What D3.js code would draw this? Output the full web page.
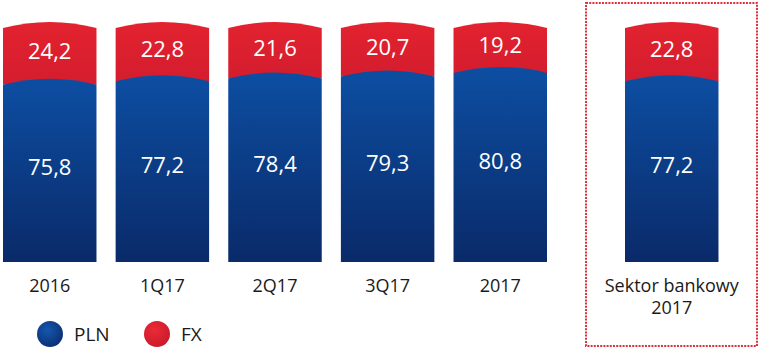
<!DOCTYPE html>
<html><head><meta charset="utf-8">
<script src="https://cdn.jsdelivr.net/npm/d3@7"></script>
<style>body{margin:0;background:#fff}svg{display:block}</style>
</head><body>
<svg id="c" width="761" height="350"></svg>
<script>
const categories = ["2016", "1Q17", "2Q17", "3Q17", "2017", "Sektor bankowy\n2017"];
const plnValues = [75.8, 77.2, 78.4, 79.3, 80.8, 77.2];
const fxValues = [24.2, 22.8, 21.6, 20.7, 19.2, 22.8];
const legendLabels = ["PLN", "FX"];

const svg = d3.select("#c");
const defs = svg.append("defs");
const gb = defs.append("linearGradient").attr("id","gBlue").attr("x1",0).attr("y1",0).attr("x2",0).attr("y2",1);
gb.append("stop").attr("offset","0%").attr("stop-color","#0d4ea2");
gb.append("stop").attr("offset","100%").attr("stop-color","#0a2a69");
const gr = defs.append("linearGradient").attr("id","gRed").attr("x1",0).attr("y1",0).attr("x2",0).attr("y2",1);
gr.append("stop").attr("offset","0%").attr("stop-color","#e3222f");
gr.append("stop").attr("offset","100%").attr("stop-color","#d41d2e");
const rb = defs.append("radialGradient").attr("id","rBlue").attr("cx","40%").attr("cy","35%").attr("r","70%");
rb.append("stop").attr("offset","0%").attr("stop-color","#1557ad");
rb.append("stop").attr("offset","100%").attr("stop-color","#0a2f72");
const rr = defs.append("radialGradient").attr("id","rRed").attr("cx","40%").attr("cy","35%").attr("r","70%");
rr.append("stop").attr("offset","0%").attr("stop-color","#ec2a36");
rr.append("stop").attr("offset","100%").attr("stop-color","#c81a2a");

const x = d3.scaleBand().domain(d3.range(5)).range([3, 547]).paddingInner(0.17).paddingOuter(0);
const bw = x.bandwidth();
const xPos = i => i < 5 ? x(i) : 625;
const y = d3.scaleLinear().domain([0, 100]).range([262, 28]);
const bulge = 6;
const fmt = v => v.toFixed(1).replace(".", ",");

function segPath(x0, yTop, yBot) {
  const x1 = x0 + bw;
  return `M${x0},${yBot}L${x0},${yTop}Q${x0 + bw/2},${yTop - 2*bulge} ${x1},${yTop}L${x1},${yBot}Z`;
}

const g = svg.append("g");
categories.forEach((c, i) => {
  const x0 = xPos(i);
  const pln = plnValues[i], fx = fxValues[i];
  g.append("path").attr("d", segPath(x0, y(pln + fx), y(pln))).attr("fill", "url(#gRed)");
  g.append("path").attr("d", segPath(x0, y(pln), y(0))).attr("fill", "url(#gBlue)");
  g.append("text").attr("x", x0 + bw/2).attr("y", (y(pln + fx) + y(pln))/2 + 2.5)
    .attr("text-anchor","middle")
    .attr("fill","#fff").attr("font-family","Open Sans").attr("font-size",22).text(fmt(fx));
  g.append("text").attr("x", x0 + bw/2).attr("y", (y(pln) + y(0))/2 + 1.5)
    .attr("text-anchor","middle")
    .attr("fill","#fff").attr("font-family","Open Sans").attr("font-size",22).text(fmt(pln));
  const lines = c.split("\n");
  const t = g.append("text").attr("text-anchor","middle").attr("font-family","Open Sans").attr("font-size",18).attr("fill","#1a1a1a");
  lines.forEach((l, k) => t.append("tspan").attr("x", x0 + bw/2).attr("y", 292 + k*22).text(l));
});

svg.append("rect").attr("x", 586).attr("y", 3).attr("width", 171).attr("height", 343)
  .attr("fill","none").attr("stroke","#e0303c").attr("stroke-width",2).attr("stroke-dasharray","2,1.2");

const leg = svg.append("g");
[["url(#rBlue)", 50], ["url(#rRed)", 157]].forEach(([f, cx], k) => {
  leg.append("circle").attr("cx", cx).attr("cy", 334).attr("r", 13).attr("fill", f);
  leg.append("text").attr("x", cx + 24).attr("y", 334).attr("dominant-baseline","central")
    .attr("font-family","Open Sans").attr("font-size",19).attr("fill","#1a1a1a").text(legendLabels[k]);
});
</script>
</body></html>
